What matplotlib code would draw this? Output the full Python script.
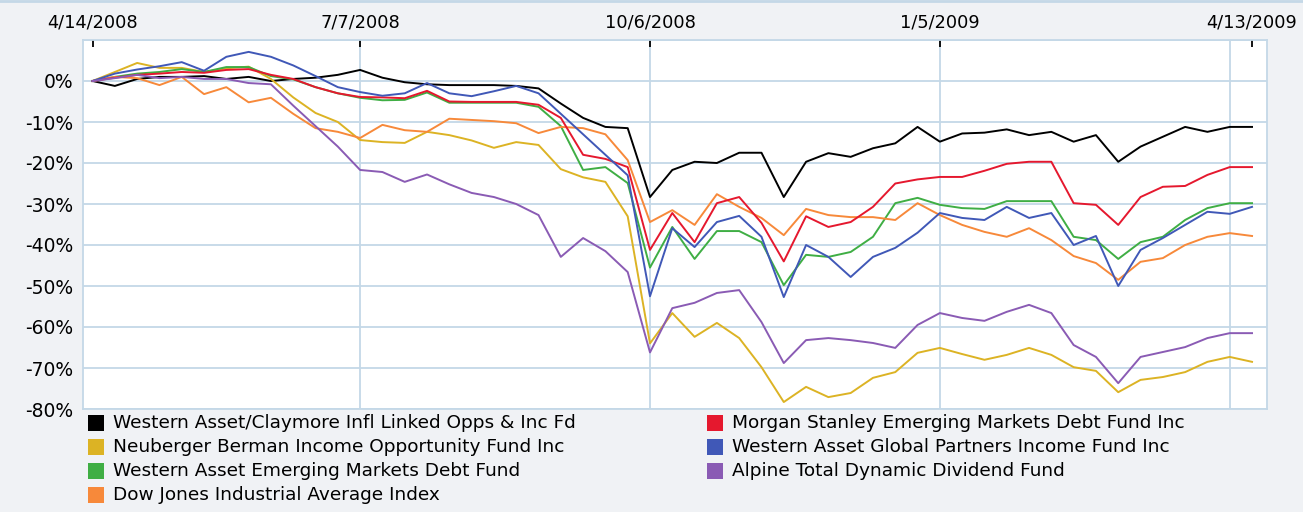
import matplotlib
matplotlib.use("Agg")
import matplotlib.pyplot as plt
import matplotlib.ticker as mticker
from matplotlib.patches import Rectangle
from matplotlib.lines import Line2D
import pandas as pd

# weekly closes, % change since 4/14/2008
dates = pd.date_range("2008-04-14", periods=53, freq="7D")

western_claymore = [0, -1.2, 0.5, 1.0, 1.0, 1.2, 0.5, 1.0, 0.0, 0.5, 0.8, 1.5, 2.7,
                    0.8, -0.3, -0.8, -1.0, -1.0, -1.0, -1.2, -1.8, -5.5, -9.0, -11.2, -11.5,
                    -28.3, -21.7, -19.7, -20.0, -17.5, -17.5, -28.3, -19.7, -17.6, -18.5, -16.4,
                    -15.2, -11.2, -14.8, -12.8, -12.6, -11.8, -13.2, -12.4, -14.8, -13.2, -19.7,
                    -16.0, -13.6, -11.2, -12.4, -11.2, -11.2]
neuberger = [0, 2.2, 4.4, 3.2, 3.2, 2.2, 3.1, 3.5, 0.5, -4.0, -7.8, -10.0, -14.4,
             -14.9, -15.1, -12.4, -13.2, -14.5, -16.3, -14.9, -15.6, -21.5, -23.5, -24.6, -33.0,
             -64.0, -56.6, -62.4, -59.0, -62.7, -69.8, -78.3, -74.6, -77.1, -76.1, -72.4,
             -71.0, -66.3, -65.1, -66.6, -68.0, -66.8, -65.1, -66.8, -69.8, -70.7, -75.9,
             -72.9, -72.2, -71.0, -68.5, -67.3, -68.5]
western_em_debt = [0, 1.0, 1.8, 2.2, 2.9, 2.2, 3.4, 3.4, 1.2, 0.4, -1.5, -3.0, -4.1,
                   -4.7, -4.6, -2.8, -5.3, -5.3, -5.3, -5.3, -6.3, -11.0, -21.7, -21.0, -24.9,
                   -45.5, -35.6, -43.4, -36.6, -36.6, -39.3, -49.8, -42.4, -42.9, -41.7, -38.0,
                   -29.8, -28.5, -30.2, -31.0, -31.2, -29.3, -29.3, -29.3, -38.0, -38.8, -43.4,
                   -39.3, -38.0, -33.9, -31.0, -29.8, -29.8]
dow_jones = [0, 1.0, 0.7, -1.0, 1.0, -3.2, -1.5, -5.2, -4.1, -8.0, -11.5, -12.4, -13.9,
             -10.7, -12.0, -12.4, -9.2, -9.5, -9.8, -10.3, -12.7, -11.2, -11.5, -13.0, -19.3,
             -34.4, -31.5, -35.1, -27.6, -30.7, -33.4, -37.6, -31.2, -32.7, -33.2, -33.2,
             -33.9, -29.8, -32.7, -35.1, -36.8, -38.0, -35.9, -38.8, -42.7, -44.4, -48.5,
             -44.1, -43.2, -40.0, -38.0, -37.1, -37.8]
morgan_stanley = [0, 0.8, 1.5, 1.8, 2.2, 2.0, 2.7, 2.9, 1.5, 0.5, -1.5, -3.0, -3.9,
                  -4.0, -4.2, -2.4, -5.0, -5.1, -5.1, -5.1, -5.8, -9.0, -18.0, -19.0, -21.0,
                  -41.2, -32.2, -39.3, -29.8, -28.3, -34.6, -44.0, -33.0, -35.6, -34.4, -30.7,
                  -25.0, -24.0, -23.4, -23.4, -21.9, -20.2, -19.7, -19.7, -29.8, -30.2, -35.1,
                  -28.3, -25.8, -25.6, -22.9, -21.0, -21.0]
western_global = [0, 1.8, 2.8, 3.6, 4.6, 2.5, 5.9, 7.1, 5.9, 3.8, 1.2, -1.5, -2.7,
                  -3.6, -3.0, -0.5, -3.0, -3.7, -2.5, -1.2, -3.0, -8.0, -13.0, -18.0, -23.0,
                  -52.5, -35.9, -40.5, -34.4, -32.9, -38.0, -52.7, -40.0, -42.9, -47.8, -42.9,
                  -40.7, -37.0, -32.2, -33.4, -33.9, -30.7, -33.4, -32.2, -40.0, -37.8, -50.0,
                  -41.2, -38.3, -35.1, -31.9, -32.4, -30.7]
alpine = [0, 0.7, 1.5, 0.7, 1.0, 0.5, 0.5, -0.5, -0.8, -6.0, -11.0, -16.0, -21.7,
          -22.2, -24.6, -22.8, -25.2, -27.3, -28.3, -30.0, -32.7, -42.9, -38.3, -41.5, -46.6,
          -66.2, -55.4, -54.1, -51.7, -51.0, -58.8, -68.8, -63.2, -62.7, -63.2, -63.9,
          -65.1, -59.5, -56.6, -57.8, -58.5, -56.3, -54.6, -56.6, -64.4, -67.3, -73.7,
          -67.3, -66.1, -64.9, -62.7, -61.5, -61.5]

names = ["Western Asset/Claymore Infl Linked Opps & Inc Fd",
         "Neuberger Berman Income Opportunity Fund Inc",
         "Western Asset Emerging Markets Debt Fund",
         "Dow Jones Industrial Average Index",
         "Morgan Stanley Emerging Markets Debt Fund Inc",
         "Western Asset Global Partners Income Fund Inc",
         "Alpine Total Dynamic Dividend Fund"]
series = [western_claymore, neuberger, western_em_debt, dow_jones,
          morgan_stanley, western_global, alpine]
colors = ["#000000", "#dcb324", "#3fae44", "#f7893a",
          "#e5182e", "#4058b7", "#8a5bb4"]

label_dates = pd.to_datetime(["2008-04-14", "2008-07-07", "2008-10-06",
                              "2009-01-05", "2009-04-13"])
grid_dates = pd.to_datetime(["2008-07-07", "2008-10-06", "2009-01-05", "2009-04-06"])

grid_col = "#c4d8e7"
bg_col = "#f0f2f5"

fig = plt.figure(figsize=(13.03, 5.12), dpi=100, facecolor=bg_col)
ax = fig.add_axes([83 / 1303, 1 - 409 / 512, (1267 - 83) / 1303, (409 - 40) / 512])
ax.set_facecolor("white")

# thin blue band along the top of the panel
fig.add_artist(Line2D([0, 1], [1 - 1 / 512, 1 - 1 / 512], transform=fig.transFigure,
                      color=grid_col, lw=2))

for d in grid_dates:
    ax.axvline(d, color=grid_col, lw=1.3, zorder=1)
for v in range(-80, 11, 10):
    ax.axhline(v, color=grid_col, lw=1.3, zorder=1)

for vals, col in zip(series, colors):
    ax.plot(dates, vals, color=col, lw=1.4, zorder=3)

ax.set_xlim(dates[0] - pd.Timedelta(days=3), dates[-1] + pd.Timedelta(days=4.7))
ax.set_ylim(-80, 10)

ax.xaxis.tick_top()
ax.set_xticks(label_dates)
ax.xaxis.set_major_formatter(mticker.FixedFormatter(
    [f"{d.month}/{d.day}/{d.year}" for d in label_dates]))
ax.tick_params(axis="x", direction="in", length=5, width=1.3, color="black",
               pad=6, labelsize=12.8)

ax.set_yticks(range(-80, 1, 10))
ax.yaxis.set_major_formatter(mticker.FuncFormatter(lambda v, p: f"{v:.0f}%"))
ax.tick_params(axis="y", length=0, pad=7, labelsize=13.5)

for s in ax.spines.values():
    s.set_color(grid_col)
    s.set_linewidth(1.3)

# legend, two columns
rows = [423, 447, 471, 495]
for i, (name, col) in enumerate(zip(names, colors)):
    if i < 4:
        x0, y0 = 88, rows[i]
    else:
        x0, y0 = 707, rows[i - 4]
    fig.add_artist(Rectangle((x0 / 1303, 1 - (y0 + 8) / 512), 16 / 1303, 16 / 512,
                             transform=fig.transFigure, color=col, lw=0))
    fig.text((x0 + 25) / 1303, 1 - y0 / 512, name, fontsize=13.3, va="center", ha="left")

fig.savefig("out.png", dpi=100, facecolor=bg_col)
